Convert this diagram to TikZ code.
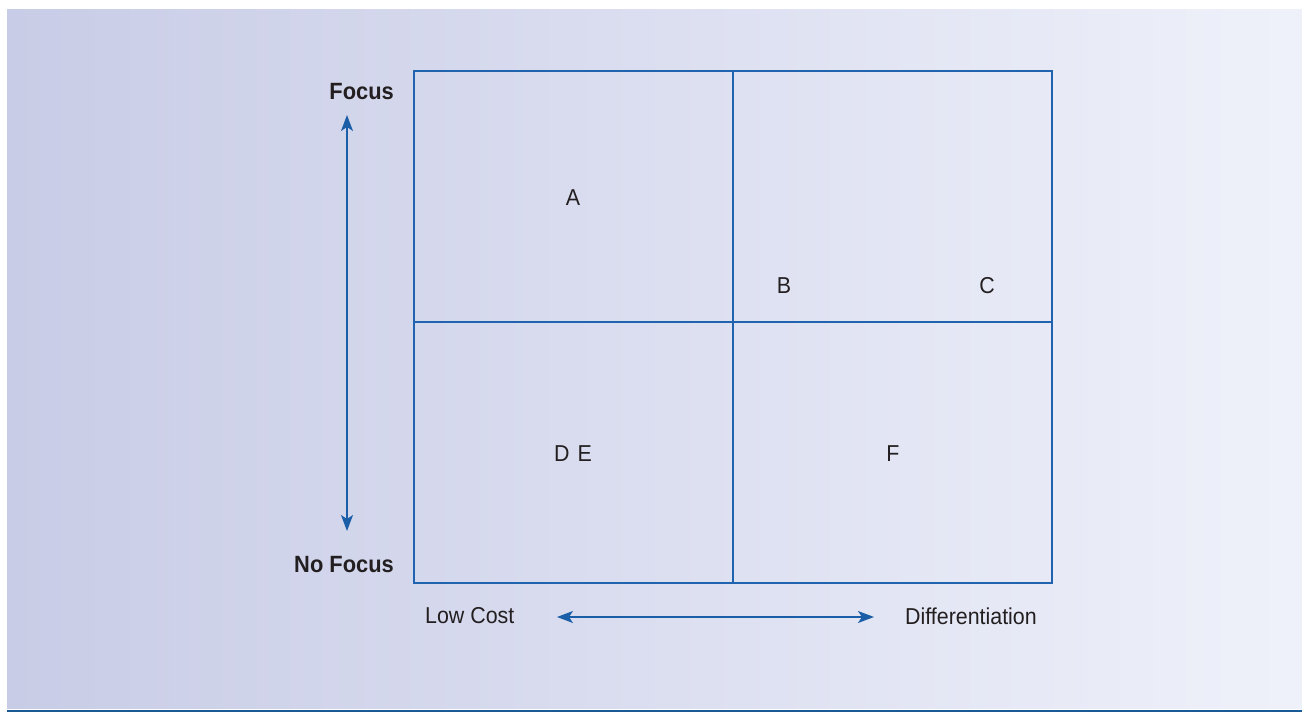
\documentclass[tikz,border=0pt]{standalone}
\usepackage{fontspec}
\setmainfont{Liberation Sans}
\newfontfamily\labfont[FakeStretch=0.93]{Liberation Sans}
\usetikzlibrary{arrows.meta}
\definecolor{bgL}{HTML}{C8CCE6}
\definecolor{bgR}{HTML}{EFF1FA}
\definecolor{gridblue}{HTML}{2064B0}
\definecolor{arrblue}{HTML}{1A5EA8}
\definecolor{barblue}{HTML}{1A5A96}
\definecolor{txt}{HTML}{231F20}
\begin{document}
\begin{tikzpicture}[x=1pt,y=-1pt,
  lab/.style={font=\labfont\fontsize{23}{27}\selectfont, text=txt, inner sep=0pt},
  blab/.style={font=\labfont\bfseries\fontsize{23.5}{27}\selectfont, text=txt, inner sep=0pt},
  grid/.style={draw=gridblue, line width=1.2pt},
  tip/.style={Stealth[length=16pt,width=12pt,inset=4pt]},
  axis/.style={draw=arrblue, line width=1.3pt, {Stealth[length=16pt,width=12pt,inset=4pt]}-{Stealth[length=16pt,width=12pt,inset=4pt]}}]
\useasboundingbox (0,0) rectangle (1302,712);
\fill[white] (0,0) rectangle (1302,712);
\shade[left color=bgL, right color=bgR] (7,9) rectangle (1302,708);
\fill[barblue] (7,709.5) rectangle (1302,711.5);
% grid
\coordinate (tl) at (414,71);
\coordinate (br) at (1052,583);
\coordinate (mt) at (733,71);
\coordinate (mb) at (733,583);
\coordinate (ml) at (414,322);
\coordinate (mr) at (1052,322);
\draw[grid] (tl) rectangle (br);
\draw[grid] (mt) -- (mb);
\draw[grid] (ml) -- (mr);
% axes
\coordinate (vtop) at (347,115);
\coordinate (vbot) at (347,531);
\coordinate (hl) at (557,617);
\coordinate (hr) at (874,617);
\draw[axis] (vtop) -- (vbot);
\draw[axis] (hl) -- (hr);
% labels
\node[blab, anchor=east] (focus) at (394,92) {Focus};
\node[blab, anchor=east] (nofocus) at (394,565) {No Focus};
\node[lab, anchor=west] (low) at (425,616) {Low Cost};
\node[lab, anchor=west] (diff) at (905,616) {Differentiation};
\node[lab] (A) at (573,198) {A};
\node[lab] (B) at (784,286) {B};
\node[lab] (C) at (987,286) {C};
\node[lab] (DE) at (573,454) {D\hspace{8pt}E};
\node[lab] (F) at (893,454) {F};
\end{tikzpicture}
\end{document}
